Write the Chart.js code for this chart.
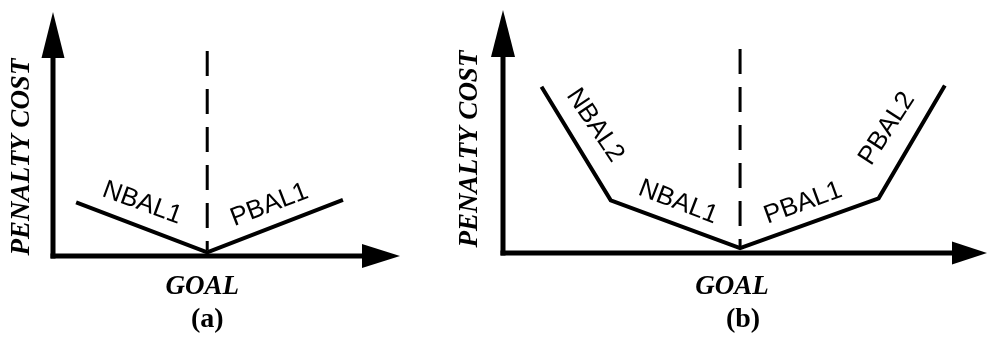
<!DOCTYPE html>
<html>
<head>
<meta charset="utf-8">
<script src="https://cdn.jsdelivr.net/npm/chart.js@4.4.1/dist/chart.umd.min.js"></script>
<style>
    body { margin: 0; background: #fff; }
    #wrap { position: relative; width: 988px; height: 345px; }
    .panel { position: absolute; top: 0; height: 345px; }
</style>
</head>
<body>
<div id="wrap">
    <div class="panel" style="left:0;width:440px"><canvas id="chartA"></canvas></div>
    <div class="panel" style="left:440px;width:548px"><canvas id="chartB"></canvas></div>
</div>
<script>
// panel (a): one breakpoint each side of the goal
let penaltyXA = [-8.5, 0, 8.8]
let penaltyYA = [2.2, 0.15, 2.3]
let segmentLabelsA = ['NBAL1', 'PBAL1']

// panel (b): two breakpoints each side of the goal
let penaltyXB = [-12.9, -8.4, 0, 9.0, 13.3]
let penaltyYB = [6.84, 2.17, 0.2, 2.25, 6.89]
let segmentLabelsB = ['NBAL2', 'NBAL1', 'PBAL1', 'PBAL2']

let goalX = 0
let goalLineYA = [8.4, 0.25]
let goalLineYB = [8.4, 0.2]

let yAxisTitle = 'PENALTY COST'
let xAxisTitle = 'GOAL'
let panelNames = ['(a)', '(b)']

// where the segment labels sit (data units) and their tilt in degrees
const labelPlaceA = [
    { x: -4.22, y: 2.17, angle: 20 },
    { x: 4.03, y: 2.09, angle: -21 }
]
const labelPlaceB = [
    { x: -9.42, y: 5.25, angle: 56 },
    { x: -4.03, y: 2.09, angle: 21 },
    { x: 4.09, y: 2.05, angle: -20 },
    { x: 9.55, y: 5.12, angle: -57 }
]

function toPoints(xs, ys) {
    return xs.map((x, i) => ({ x: x, y: ys[i] }))
}

const diagramPlugin = {
    id: 'diagram',
    beforeDatasetsDraw(chart, args, opts) {
        const ctx = chart.ctx
        const area = chart.chartArea
        const xs = chart.scales.x
        const ys = chart.scales.y
        const ox = xs.getPixelForValue(xs.min)
        const oy = ys.getPixelForValue(0)
        ctx.save()
        ctx.fillStyle = '#000'
        ctx.strokeStyle = '#000'
        ctx.lineWidth = 5
        ctx.lineCap = 'butt'
        // y axis
        ctx.beginPath()
        ctx.moveTo(ox, oy + 2.5)
        ctx.lineTo(ox, area.top + opts.yArrow.len - 1)
        ctx.stroke()
        ctx.beginPath()
        ctx.moveTo(ox, area.top)
        ctx.lineTo(ox - opts.yArrow.half, area.top + opts.yArrow.len)
        ctx.lineTo(ox + opts.yArrow.half, area.top + opts.yArrow.len)
        ctx.closePath()
        ctx.fill()
        // x axis
        ctx.beginPath()
        ctx.moveTo(ox - 2.5, oy)
        ctx.lineTo(area.right - opts.xArrow.len + 1, oy)
        ctx.stroke()
        ctx.beginPath()
        ctx.moveTo(area.right, oy)
        ctx.lineTo(area.right - opts.xArrow.len, oy - opts.xArrow.half)
        ctx.lineTo(area.right - opts.xArrow.len, oy + opts.xArrow.half)
        ctx.closePath()
        ctx.fill()
        ctx.restore()
    },
    afterDatasetsDraw(chart, args, opts) {
        const ctx = chart.ctx
        const xs = chart.scales.x
        const ys = chart.scales.y
        ctx.save()
        ctx.fillStyle = '#000'
        ctx.textAlign = 'center'
        ctx.textBaseline = 'middle'

        ctx.font = '26px "Liberation Sans", Arial, sans-serif'
        opts.labels.forEach((text, i) => {
            const p = opts.places[i]
            ctx.save()
            ctx.translate(xs.getPixelForValue(p.x), ys.getPixelForValue(p.y))
            ctx.rotate(p.angle * Math.PI / 180)
            ctx.fillText(text, 0, 0)
            ctx.restore()
        })

        ctx.font = 'italic bold 27px "Liberation Serif", "Times New Roman", serif'
        ctx.save()
        ctx.translate(opts.yTitle.x, opts.yTitle.y)
        ctx.rotate(-Math.PI / 2)
        ctx.fillText(yAxisTitle, 0, 0)
        ctx.restore()

        const gx = xs.getPixelForValue(goalX)
        ctx.fillText(xAxisTitle, gx + opts.goalShift, 287)

        ctx.font = 'bold 28px "Liberation Serif", "Times New Roman", serif'
        ctx.fillText(opts.name, gx + opts.nameShift, 320)
        ctx.restore()
    }
}

function buildChart(canvasId, px, py, goalY, xMin, xMax, padding, plugOpts) {
    const ctx = document.querySelector(canvasId).getContext('2d')
    return new Chart(ctx, {
        type: 'scatter',
        data: {
            datasets: [{
                data: toPoints(px, py),
                showLine: true,
                borderColor: '#000',
                borderWidth: 4,
                borderJoinStyle: 'miter',
                pointRadius: 0,
                tension: 0,
                clip: false
            }, {
                data: toPoints([goalX, goalX], goalY),
                showLine: true,
                borderColor: '#000',
                borderWidth: 3,
                borderDash: [25, 13],
                pointRadius: 0,
                clip: false
            }]
        },
        options: {
            responsive: true,
            maintainAspectRatio: false,
            animation: false,
            events: [],
            layout: { padding: padding },
            scales: {
                x: { type: 'linear', min: xMin, max: xMax, display: false },
                y: { type: 'linear', min: 0, max: 10, display: false }
            },
            plugins: {
                legend: { display: false },
                tooltip: { enabled: false },
                diagram: plugOpts
            }
        },
        plugins: [diagramPlugin]
    })
}

buildChart('#chartA', penaltyXA, penaltyYA, goalLineYA, -10, 12.5,
    { left: 53, right: 40, top: 12, bottom: 89 },
    {
        labels: segmentLabelsA, places: labelPlaceA, name: panelNames[0],
        yTitle: { x: 22, y: 157 }, goalShift: -5, nameShift: 0,
        yArrow: { len: 46, half: 11.5 }, xArrow: { len: 38, half: 12 }
    })

buildChart('#chartB', penaltyXB, penaltyYB, goalLineYB, -15.4, 16.04,
    { left: 63, right: 1, top: 10, bottom: 92 },
    {
        labels: segmentLabelsB, places: labelPlaceB, name: panelNames[1],
        yTitle: { x: 30, y: 149 }, goalShift: -8, nameShift: 3,
        yArrow: { len: 47, half: 12 }, xArrow: { len: 35, half: 11.5 }
    })
</script>
</body>
</html>
